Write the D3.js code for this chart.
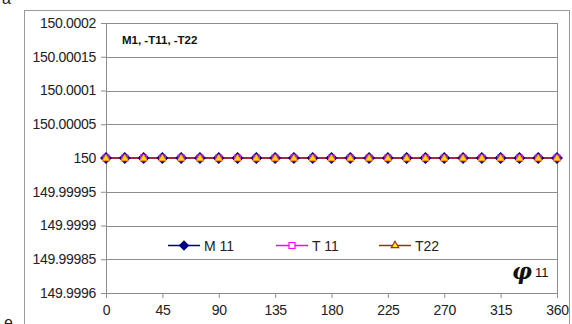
<!DOCTYPE html>
<html>
<head>
<meta charset="utf-8">
<script src="https://cdn.jsdelivr.net/npm/d3@7"></script>
<style>
  body { margin: 0; background: #fff; }
  svg { display: block; font-family: "Liberation Sans", Arial, sans-serif; }
</style>
</head>
<body>
<svg width="572" height="324"></svg>
<script>
    // angle values, 15 degree step
    var angles = [0, 15, 30, 45, 60, 75, 90, 105, 120, 135, 150, 165, 180,
                  195, 210, 225, 240, 255, 270, 285, 300, 315, 330, 345, 360];
    var m11 = [150, 150, 150, 150, 150, 150, 150, 150, 150, 150, 150, 150, 150,
               150, 150, 150, 150, 150, 150, 150, 150, 150, 150, 150, 150];
    var t11 = [150, 150, 150, 150, 150, 150, 150, 150, 150, 150, 150, 150, 150,
               150, 150, 150, 150, 150, 150, 150, 150, 150, 150, 150, 150];
    var t22 = [150, 150, 150, 150, 150, 150, 150, 150, 150, 150, 150, 150, 150,
               150, 150, 150, 150, 150, 150, 150, 150, 150, 150, 150, 150];
    var xTicks = [0, 45, 90, 135, 180, 225, 270, 315, 360];
    // gridline values, as printed on the original (excel) axis, bottom to top
    var yTicks = [149.9998, 149.99985, 149.9999, 149.99995, 150, 150.00005, 150.0001, 150.00015, 150.0002];
    var yTickLabels = ["149.9996", "149.99985", "149.9999", "149.99995", "150",
                       "150.00005", "150.0001", "150.00015", "150.0002"];

    var svg = d3.select("svg"),
        margin = {top: 23, left: 106},
        width = 451,
        height = 270;

    // outer chart frame
    svg.append("rect")
        .attr("x", 24.5).attr("y", 10.5)
        .attr("width", 545).attr("height", 330)
        .attr("fill", "#fff")
        .attr("stroke", "#9a9a9a");

    // stray figure letters
    svg.append("text").attr("x", 2).attr("y", 4).attr("font-size", 16).attr("fill", "#222").text("a");
    svg.append("text").attr("x", 4).attr("y", 328).attr("font-size", 16).attr("fill", "#222").text("e");

    var g = svg.append("g").attr("transform", "translate(" + margin.left + "," + margin.top + ")");

    var x = d3.scaleLinear().domain([0, 360]).range([0, width]);
    var y = d3.scaleLinear().domain([149.9998, 150.0002]).range([height, 0]);

    // gridlines
    g.append("g")
        .selectAll("line")
        .data(yTicks)
        .enter().append("line")
        .attr("x1", 0).attr("x2", width)
        .attr("y1", function (d) { return Math.round(y(d)) + 0.5; })
        .attr("y2", function (d) { return Math.round(y(d)) + 0.5; })
        .attr("stroke", "#8c8c8c")
        .attr("stroke-width", 1);

    g.append("rect")
        .attr("x", 0.5).attr("y", 0.5)
        .attr("width", width).attr("height", height)
        .attr("fill", "none")
        .attr("stroke", "#8c8c8c");

    var yAxis = d3.axisLeft(y)
        .tickValues(yTicks)
        .tickSize(5)
        .tickPadding(5)
        .tickFormat(function (d, i) { return yTickLabels[i]; });

    var ya = g.append("g").call(yAxis);
    ya.select(".domain").attr("stroke", "#8c8c8c");
    ya.selectAll(".tick line").attr("stroke", "#8c8c8c");
    ya.selectAll(".tick text")
        .attr("font-size", 14)
        .attr("font-family", "Liberation Sans, Arial, sans-serif")
        .attr("fill", "#222")
        .attr("letter-spacing", -0.3);

    var xa = g.append("g")
        .attr("transform", "translate(0," + height + ")")
        .call(d3.axisBottom(x).tickValues(xTicks).tickSize(5).tickPadding(7));
    xa.select(".domain").attr("stroke", "#8c8c8c");
    xa.selectAll(".tick line").attr("stroke", "#8c8c8c");
    xa.selectAll(".tick text")
        .attr("font-size", 14)
        .attr("font-family", "Liberation Sans, Arial, sans-serif")
        .attr("fill", "#222")
        .attr("letter-spacing", -0.3);

    var line = d3.line()
        .x(function (d, i) { return x(angles[i]); })
        .y(function (d) { return y(d); });

    // series lines
    g.append("path").datum(m11).attr("fill", "none").attr("stroke", "#000080").attr("stroke-width", 1.5).attr("d", line);
    g.append("path").datum(t11).attr("fill", "none").attr("stroke", "#ff00ff").attr("stroke-width", 1.5).attr("d", line);
    g.append("path").datum(t22).attr("fill", "none").attr("stroke", "#993300").attr("stroke-width", 1.5).attr("d", line);

    var diamond = d3.symbol().type(d3.symbolSquare).size(56);
    var square = d3.symbol().type(d3.symbolSquare).size(36);
    var tri = d3.symbol().type(d3.symbolTriangle).size(22);

    g.append("g").selectAll("path")
        .data(m11).enter().append("path")
        .attr("transform", function (d, i) { return "translate(" + x(angles[i]) + "," + y(d) + ") rotate(45)"; })
        .attr("d", diamond)
        .attr("fill", "#000080").attr("stroke", "#000080");

    g.append("g").selectAll("path")
        .data(t11).enter().append("path")
        .attr("transform", function (d, i) { return "translate(" + x(angles[i]) + "," + y(d) + ")"; })
        .attr("d", square)
        .attr("fill", "#8a1fb0").attr("fill-opacity", 0.75)
        .attr("stroke", "#c020e0").attr("stroke-width", 1.2);

    g.append("g").selectAll("path")
        .data(t22).enter().append("path")
        .attr("transform", function (d, i) { return "translate(" + x(angles[i]) + "," + (y(d) + 0.5) + ")"; })
        .attr("d", tri)
        .attr("fill", "#ffdd00").attr("stroke", "#ff9900").attr("stroke-width", 0.8);

    // legend
    var legend = [
        {name: "M 11", color: "#000080", x: 168, sym: d3.symbol().type(d3.symbolSquare).size(40), rot: 45, fill: "#000080", stroke: "#000080"},
        {name: "T 11", color: "#ff00ff", x: 276, sym: d3.symbol().type(d3.symbolSquare).size(36), rot: 0, fill: "#fff", stroke: "#ff00ff"},
        {name: "T22", color: "#993300", x: 379, sym: d3.symbol().type(d3.symbolTriangle).size(24), rot: 0, fill: "#ffff00", stroke: "#993300"}
    ];
    var lg = svg.append("g").selectAll("g").data(legend).enter().append("g")
        .attr("transform", function (d) { return "translate(" + d.x + ",245)"; });
    lg.append("line").attr("x1", 0).attr("x2", 32).attr("y1", 0.5).attr("y2", 0.5)
        .attr("stroke", function (d) { return d.color; }).attr("stroke-width", 1.5);
    lg.append("path")
        .attr("transform", function (d) { return "translate(16,0.5) rotate(" + d.rot + ")"; })
        .attr("d", function (d) { return d.sym(); })
        .attr("fill", function (d) { return d.fill; })
        .attr("stroke", function (d) { return d.stroke; }).attr("stroke-width", 1.2);
    lg.append("text").attr("x", 36).attr("y", 5.5)
        .attr("font-size", 14).attr("fill", "#222")
        .text(function (d) { return d.name; });

    // title and axis label
    svg.append("text").attr("x", 122).attr("y", 44)
        .attr("font-size", 11.5).attr("font-weight", "bold").attr("fill", "#111")
        .text("M1, -T11, -T22");

    var phi = svg.append("text").attr("x", 512).attr("y", 279).attr("fill", "#111");
    phi.append("tspan").attr("font-size", 22).attr("font-weight", "bold").attr("font-style", "italic")
        .attr("font-family", "DejaVu Serif, serif").text("φ");
    phi.append("tspan").attr("dx", 3).attr("dy", -2).attr("font-size", 13).text("11");
</script>
</body>
</html>
